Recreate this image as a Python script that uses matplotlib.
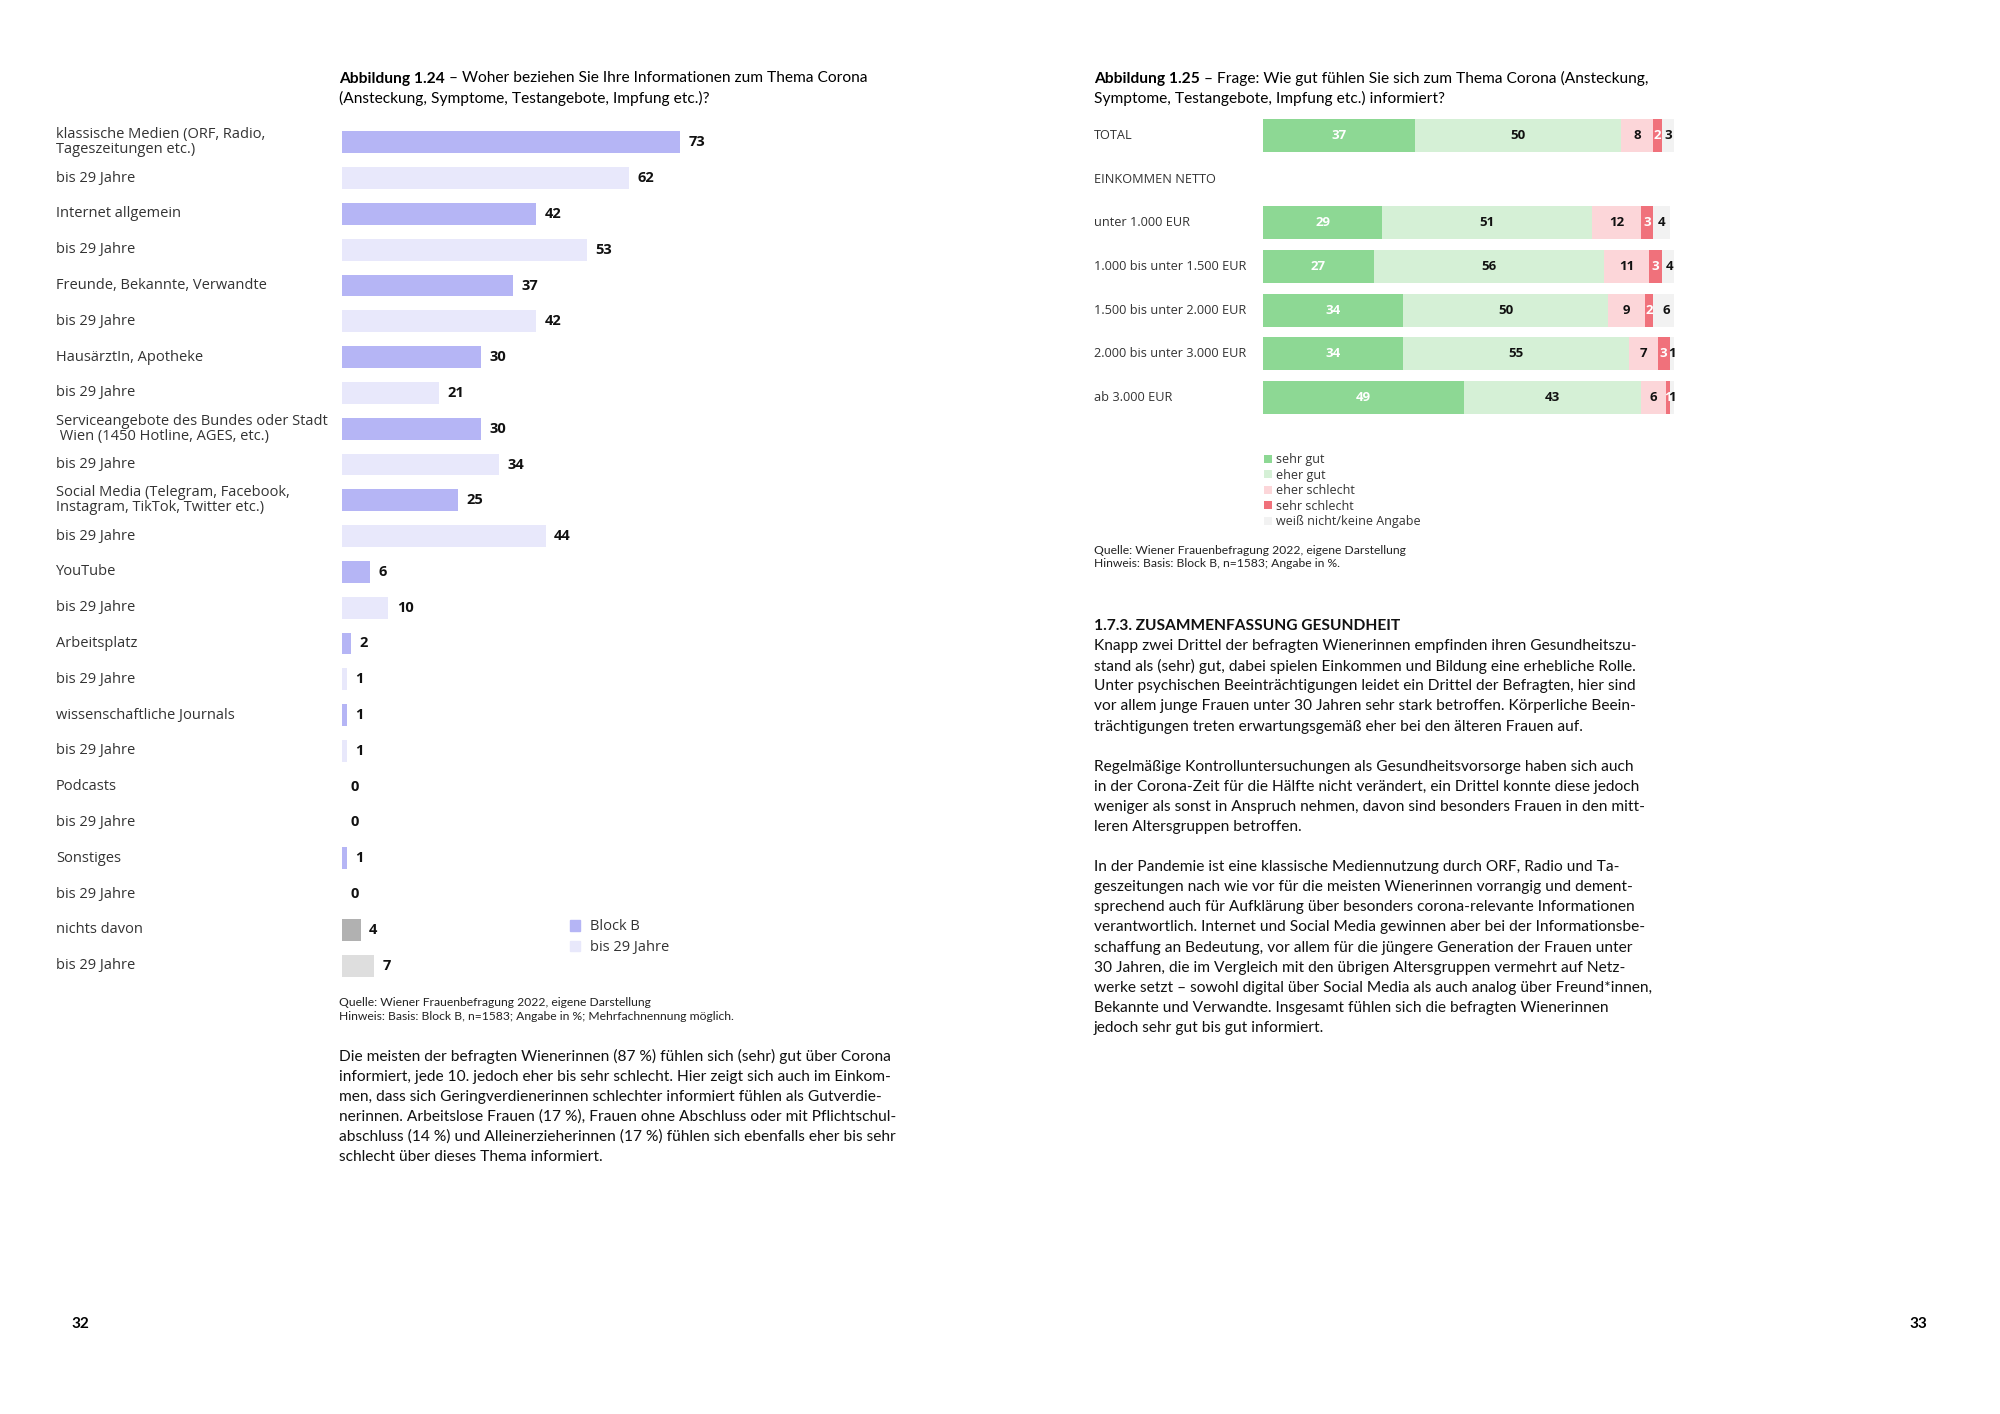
import matplotlib
matplotlib.use('Agg')
import matplotlib.pyplot as plt
from matplotlib.patches import Patch
from matplotlib.transforms import blended_transform_factory

plt.rcParams['font.family'] = ['Open Sans', 'DejaVu Sans']
BODY = ['Lato', 'DejaVu Sans']

# --- Abbildung 1.24 data
categories = ["klassische Medien (ORF, Radio,\nTageszeitungen etc.)", "Internet allgemein",
              "Freunde, Bekannte, Verwandte", "HausärztIn, Apotheke",
              "Serviceangebote des Bundes oder Stadt\n Wien (1450 Hotline, AGES, etc.)",
              "Social Media (Telegram, Facebook,\nInstagram, TikTok, Twitter etc.)",
              "YouTube", "Arbeitsplatz", "wissenschaftliche Journals", "Podcasts",
              "Sonstiges", "nichts davon"]
block_b = [73, 42, 37, 30, 30, 25, 6, 2, 1, 0, 1, 4]
bis_29 = [62, 53, 42, 21, 34, 44, 10, 1, 1, 0, 0, 7]

# --- Abbildung 1.25 data
income_rows = ["TOTAL", "unter 1.000 EUR", "1.000 bis unter 1.500 EUR",
               "1.500 bis unter 2.000 EUR", "2.000 bis unter 3.000 EUR", "ab 3.000 EUR"]
sehr_gut = [37, 29, 27, 34, 34, 49]
eher_gut = [50, 51, 56, 50, 55, 43]
eher_schlecht = [8, 12, 11, 9, 7, 6]
sehr_schlecht = [2, 3, 3, 2, 3, 1]
keine_angabe = [3, 4, 4, 6, 1, 1]
answer_labels = ["sehr gut", "eher gut", "eher schlecht", "sehr schlecht", "weiß nicht/keine Angabe"]

W, H = 2000, 1414
fig = plt.figure(figsize=(W / 100, H / 100), dpi=100)
fig.patch.set_facecolor('white')

BODY_SIZE = 11.2


def fx(px):
    return px / W


def fy(py):
    return 1 - py / H


def txt(x, y, s, **kw):
    kw.setdefault('va', 'center_baseline')
    return fig.text(fx(x), fy(y), s, **kw)


def mixed(x, y, bold, rest, size):
    t = txt(x, y, bold, fontweight='bold', fontsize=size, family=BODY)
    w = t.get_window_extent(fig.canvas.get_renderer()).width
    txt(x + w, y, rest, fontsize=size, family=BODY)


# ---------------- left chart
ax1 = fig.add_axes([fx(342), fy(983.5), (805 - 342) / W, (983.5 - 124.5) / H])
ax1.set_xlim(0, 100)
ax1.set_ylim(23.5, -0.5)
ax1.axis('off')
lab_tr = blended_transform_factory(fig.transFigure, ax1.transData)

for i, cat in enumerate(categories):
    last = (i == len(categories) - 1)
    c1 = '#b1b1b1' if last else '#b5b5f5'
    c2 = '#dedede' if last else '#e8e8fb'
    for j, (val, col, lab) in enumerate([(block_b[i], c1, cat), (bis_29[i], c2, "bis 29 Jahre")]):
        y = 2 * i + j
        ax1.barh(y, val, height=0.61, color=col, left=0)
        ax1.annotate(str(val), (val, y), xytext=(6, 0), textcoords='offset points',
                     ha='left', va='center', fontsize=10.5, fontweight='bold', color='#111111')
        ax1.text(fx(56), y, lab, transform=lab_tr, ha='left', va='center',
                 fontsize=10.5, color='#333333', linespacing=1.0)

ax1.legend(handles=[Patch(color='#b5b5f5', label='Block B'), Patch(color='#e8e8fb', label='bis 29 Jahre')],
           loc='upper left', bbox_to_anchor=(fx(570), fy(919.5)), bbox_transform=fig.transFigure,
           frameon=False, fontsize=10.5, handlelength=0.7, handleheight=0.7, handletextpad=0.7,
           labelspacing=0.4, borderpad=0, borderaxespad=0, labelcolor='#333333')

mixed(339, 77, "Abbildung 1.24", " – Woher beziehen Sie Ihre Informationen zum Thema Corona", BODY_SIZE)
txt(339, 97, "(Ansteckung, Symptome, Testangebote, Impfung etc.)?", fontsize=BODY_SIZE, family=BODY)
txt(339, 1001, "Quelle: Wiener Frauenbefragung 2022, eigene Darstellung", fontsize=8.7, family=BODY, color='#222222')
txt(339, 1015, "Hinweis: Basis: Block B, n=1583; Angabe in %; Mehrfachnennung möglich.", fontsize=8.7, family=BODY, color='#222222')

left_para = [
    "Die meisten der befragten Wienerinnen (87 %) fühlen sich (sehr) gut über Corona",
    "informiert, jede 10. jedoch eher bis sehr schlecht. Hier zeigt sich auch im Einkom-",
    "men, dass sich Geringverdienerinnen schlechter informiert fühlen als Gutverdie-",
    "nerinnen. Arbeitslose Frauen (17 %), Frauen ohne Abschluss oder mit Pflichtschul-",
    "abschluss (14 %) und Alleinerzieherinnen (17 %) fühlen sich ebenfalls eher bis sehr",
    "schlecht über dieses Thema informiert.",
]
for k, line in enumerate(left_para):
    txt(339, 1055 + k * 20.1, line, fontsize=BODY_SIZE, family=BODY, color='#111111')

# ---------------- right chart
ax2 = fig.add_axes([fx(1263), fy(419), 411 / W, 305 / H])
ax2.set_xlim(0, 100)
ax2.set_ylim(6.5, -0.5)
ax2.axis('off')
lab_tr2 = blended_transform_factory(fig.transFigure, ax2.transData)

row_pos = [0, 2, 3, 4, 5, 6]
series = [sehr_gut, eher_gut, eher_schlecht, sehr_schlecht, keine_angabe]
seg_colors = ['#8dd894', '#d5f0d6', '#fcd6d9', '#f0717b', '#f2f2f2']
txt_colors = ['white', '#111111', '#111111', 'white', '#111111']
lefts = [0] * len(row_pos)
for s, vals in enumerate(series):
    ax2.barh(row_pos, vals, left=lefts, height=0.76, color=seg_colors[s], label=answer_labels[s])
    for r, v in enumerate(vals):
        ax2.text(lefts[r] + v / 2, row_pos[r], str(v), ha='center', va='center',
                 fontsize=9.5, fontweight='bold', color=txt_colors[s])
    lefts = [a + b for a, b in zip(lefts, vals)]

for r, lab in zip(row_pos, income_rows):
    ax2.text(fx(1094), r, lab, transform=lab_tr2, ha='left', va='center', fontsize=9.2, color='#333333')
ax2.text(fx(1094), 1, "EINKOMMEN NETTO", transform=lab_tr2, ha='left', va='center', fontsize=9.2, color='#333333')

ax2.legend(loc='upper left', bbox_to_anchor=(fx(1264), fy(453)), bbox_transform=fig.transFigure,
           frameon=False, fontsize=9, handlelength=0.6, handleheight=0.6, handletextpad=0.35,
           labelspacing=0.2, borderpad=0, borderaxespad=0, labelcolor='#333333')

mixed(1094, 77, "Abbildung 1.25", " – Frage: Wie gut fühlen Sie sich zum Thema Corona (Ansteckung,", BODY_SIZE)
txt(1094, 97, "Symptome, Testangebote, Impfung etc.) informiert?", fontsize=BODY_SIZE, family=BODY)
txt(1094, 550, "Quelle: Wiener Frauenbefragung 2022, eigene Darstellung", fontsize=8.7, family=BODY, color='#222222')
txt(1094, 562, "Hinweis: Basis: Block B, n=1583; Angabe in %.", fontsize=8.7, family=BODY, color='#222222')

right_para = [
    "1.7.3. ZUSAMMENFASSUNG GESUNDHEIT",
    "Knapp zwei Drittel der befragten Wienerinnen empfinden ihren Gesundheitszu-",
    "stand als (sehr) gut, dabei spielen Einkommen und Bildung eine erhebliche Rolle.",
    "Unter psychischen Beeinträchtigungen leidet ein Drittel der Befragten, hier sind",
    "vor allem junge Frauen unter 30 Jahren sehr stark betroffen. Körperliche Beein-",
    "trächtigungen treten erwartungsgemäß eher bei den älteren Frauen auf.",
    "",
    "Regelmäßige Kontrolluntersuchungen als Gesundheitsvorsorge haben sich auch",
    "in der Corona-Zeit für die Hälfte nicht verändert, ein Drittel konnte diese jedoch",
    "weniger als sonst in Anspruch nehmen, davon sind besonders Frauen in den mitt-",
    "leren Altersgruppen betroffen.",
    "",
    "In der Pandemie ist eine klassische Mediennutzung durch ORF, Radio und Ta-",
    "geszeitungen nach wie vor für die meisten Wienerinnen vorrangig und dement-",
    "sprechend auch für Aufklärung über besonders corona-relevante Informationen",
    "verantwortlich. Internet und Social Media gewinnen aber bei der Informationsbe-",
    "schaffung an Bedeutung, vor allem für die jüngere Generation der Frauen unter",
    "30 Jahren, die im Vergleich mit den übrigen Altersgruppen vermehrt auf Netz-",
    "werke setzt – sowohl digital über Social Media als auch analog über Freund*innen,",
    "Bekannte und Verwandte. Insgesamt fühlen sich die befragten Wienerinnen",
    "jedoch sehr gut bis gut informiert.",
]
for k, line in enumerate(right_para):
    txt(1094, 624.5 + k * 20.1, line, fontsize=BODY_SIZE, family=BODY, color='#111111',
        fontweight='bold' if k == 0 else 'normal')

txt(80, 1323, "32", fontsize=11, fontweight='bold', family=BODY, ha='center')
txt(1918, 1323, "33", fontsize=11, fontweight='bold', family=BODY, ha='center')

fig.savefig('out.png', dpi=100, facecolor='white')
